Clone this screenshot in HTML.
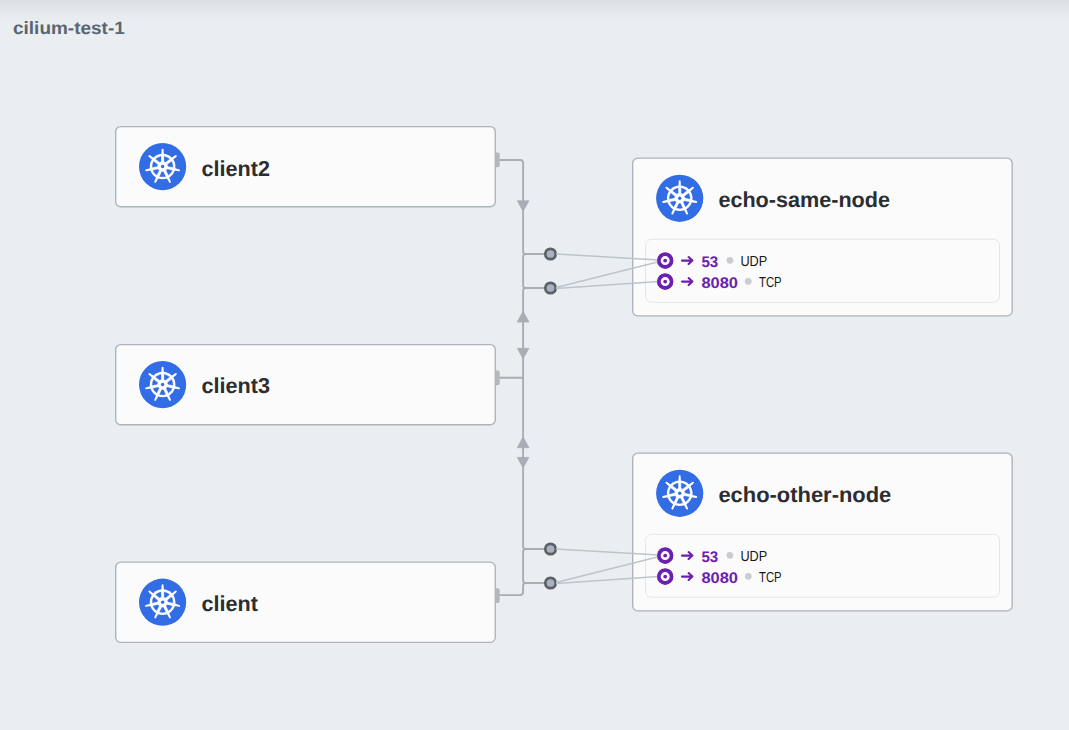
<!DOCTYPE html>
<html><head><meta charset="utf-8"><title>cilium-test-1</title>
<style>
html,body{margin:0;padding:0;background:#eaeef1;font-family:"Liberation Sans",sans-serif;}
body{width:1069px;height:730px;overflow:hidden;}
svg{display:block;}
</style></head><body>
<svg width="1069" height="730" viewBox="0 0 1069 730" text-rendering="geometricPrecision" font-family="'Liberation Sans', sans-serif">
<defs><linearGradient id="tg" x1="0" y1="0" x2="0" y2="1"><stop offset="0" stop-color="#dde0e3"/><stop offset="0.3" stop-color="#e3e6e8"/><stop offset="0.65" stop-color="#e8ebee"/><stop offset="1" stop-color="#eaeef1"/></linearGradient></defs>
<rect width="1069" height="730" fill="#eaeef1"/>
<rect width="1069" height="24" fill="url(#tg)"/>
<text x="13" y="34.2" font-size="17.8" font-weight="700" fill="#5b6572" textLength="111.8" lengthAdjust="spacingAndGlyphs">cilium-test-1</text>
<g fill="none" stroke="#a9adb5" stroke-width="1.9" stroke-linecap="butt" stroke-linejoin="round">
<path d="M499 160 H520.1 a3 3 0 0 1 3 3 V251.5 a2.5 2.5 0 0 0 2.5 2.5 H545"/>
<path d="M525.6 254 a2.5 2.5 0 0 0 -2.5 2.5 V285.5 a2.5 2.5 0 0 0 2.5 2.5 H545"/>
<path d="M525.6 288 a2.5 2.5 0 0 0 -2.5 2.5 V546.5 a2.5 2.5 0 0 0 2.5 2.5 H545"/>
<path d="M525.6 549 a2.5 2.5 0 0 0 -2.5 2.5 V580.5 a2.5 2.5 0 0 0 2.5 2.5 H545"/>
<path d="M499 595.1 H520.1 a3 3 0 0 0 3 -3 V585.5 a2.5 2.5 0 0 1 2.5 -2.5"/>
<path d="M499 377.8 H521.6 a1.5 1.5 0 0 0 1.5 -1.5 M521.6 377.8 a1.5 1.5 0 0 1 1.5 1.5"/>
</g>
<path d="M517.3000000000001 200.8 L528.9 200.8 L523.1 211.20000000000002 Z" fill="#a9adb5" stroke="#a9adb5" stroke-width="0.8" stroke-linejoin="round"/>
<path d="M517.3000000000001 322 L528.9 322 L523.1 311.2 Z" fill="#a9adb5" stroke="#a9adb5" stroke-width="0.8" stroke-linejoin="round"/>
<path d="M517.3000000000001 348.3 L528.9 348.3 L523.1 358.7 Z" fill="#a9adb5" stroke="#a9adb5" stroke-width="0.8" stroke-linejoin="round"/>
<path d="M517.3000000000001 447.7 L528.9 447.7 L523.1 436.9 Z" fill="#a9adb5" stroke="#a9adb5" stroke-width="0.8" stroke-linejoin="round"/>
<path d="M517.3000000000001 457.4 L528.9 457.4 L523.1 467.79999999999995 Z" fill="#a9adb5" stroke="#a9adb5" stroke-width="0.8" stroke-linejoin="round"/>
<circle cx="550.5" cy="254" r="5.2" fill="#aab2bc" stroke="#596069" stroke-width="2.7"/>
<circle cx="550.5" cy="288" r="5.2" fill="#aab2bc" stroke="#596069" stroke-width="2.7"/>
<circle cx="550.5" cy="549" r="5.2" fill="#aab2bc" stroke="#596069" stroke-width="2.7"/>
<circle cx="550.5" cy="583" r="5.2" fill="#aab2bc" stroke="#596069" stroke-width="2.7"/>
<rect x="115.68" y="126.58" width="379.59999999999997" height="80.15" rx="5" ry="5" fill="#fbfbfb" stroke="#aeb3bc" stroke-width="1.38"/>
<circle cx="162.6" cy="166.6" r="24.5" fill="#fff" fill-opacity="0.8"/>
<circle cx="162.6" cy="166.6" r="23.6" fill="#326de6"/>
<g transform="translate(162.6 166.54999999999998)">
<circle r="12.8" fill="#fff"/>
<path transform="rotate(0.00)" d="M-1.25 -12 L-0.95 -16.95 A0.95 0.95 0 0 1 0.95 -16.95 L1.25 -12 Z" fill="#fff"/>
<path transform="rotate(25.71)" d="M-0.78 -5.30 L0.78 -5.30 L2.97 -9.86 A10.3 10.3 0 0 0 -2.97 -9.86 Z" fill="#326de6" stroke="#326de6" stroke-width="0.3" stroke-linejoin="round"/>
<path transform="rotate(51.43)" d="M-1.25 -12 L-0.95 -16.95 A0.95 0.95 0 0 1 0.95 -16.95 L1.25 -12 Z" fill="#fff"/>
<path transform="rotate(77.14)" d="M-0.78 -5.30 L0.78 -5.30 L2.97 -9.86 A10.3 10.3 0 0 0 -2.97 -9.86 Z" fill="#326de6" stroke="#326de6" stroke-width="0.3" stroke-linejoin="round"/>
<path transform="rotate(102.86)" d="M-1.25 -12 L-0.95 -16.95 A0.95 0.95 0 0 1 0.95 -16.95 L1.25 -12 Z" fill="#fff"/>
<path transform="rotate(128.57)" d="M-0.78 -5.30 L0.78 -5.30 L2.97 -9.86 A10.3 10.3 0 0 0 -2.97 -9.86 Z" fill="#326de6" stroke="#326de6" stroke-width="0.3" stroke-linejoin="round"/>
<path transform="rotate(154.29)" d="M-1.25 -12 L-0.95 -16.95 A0.95 0.95 0 0 1 0.95 -16.95 L1.25 -12 Z" fill="#fff"/>
<path transform="rotate(180.00)" d="M-0.78 -5.30 L0.78 -5.30 L2.97 -9.86 A10.3 10.3 0 0 0 -2.97 -9.86 Z" fill="#326de6" stroke="#326de6" stroke-width="0.3" stroke-linejoin="round"/>
<path transform="rotate(205.71)" d="M-1.25 -12 L-0.95 -16.95 A0.95 0.95 0 0 1 0.95 -16.95 L1.25 -12 Z" fill="#fff"/>
<path transform="rotate(231.43)" d="M-0.78 -5.30 L0.78 -5.30 L2.97 -9.86 A10.3 10.3 0 0 0 -2.97 -9.86 Z" fill="#326de6" stroke="#326de6" stroke-width="0.3" stroke-linejoin="round"/>
<path transform="rotate(257.14)" d="M-1.25 -12 L-0.95 -16.95 A0.95 0.95 0 0 1 0.95 -16.95 L1.25 -12 Z" fill="#fff"/>
<path transform="rotate(282.86)" d="M-0.78 -5.30 L0.78 -5.30 L2.97 -9.86 A10.3 10.3 0 0 0 -2.97 -9.86 Z" fill="#326de6" stroke="#326de6" stroke-width="0.3" stroke-linejoin="round"/>
<path transform="rotate(308.57)" d="M-1.25 -12 L-0.95 -16.95 A0.95 0.95 0 0 1 0.95 -16.95 L1.25 -12 Z" fill="#fff"/>
<path transform="rotate(334.29)" d="M-0.78 -5.30 L0.78 -5.30 L2.97 -9.86 A10.3 10.3 0 0 0 -2.97 -9.86 Z" fill="#326de6" stroke="#326de6" stroke-width="0.3" stroke-linejoin="round"/>
<circle r="1.7" fill="#326de6"/>
</g>
<text x="201.5" y="175.6" font-size="21.6" font-weight="700" fill="#2b2d31">client2</text>
<path d="M496 152.6 h1.7 a2 2 0 0 1 2 2 v10.7 a2 2 0 0 1 -2 2 h-1.7 z" fill="#b6b7b9"/>
<rect x="115.68" y="344.58" width="379.59999999999997" height="80.15" rx="5" ry="5" fill="#fbfbfb" stroke="#aeb3bc" stroke-width="1.38"/>
<circle cx="162.6" cy="384.6" r="24.5" fill="#fff" fill-opacity="0.8"/>
<circle cx="162.6" cy="384.6" r="23.6" fill="#326de6"/>
<g transform="translate(162.6 384.55)">
<circle r="12.8" fill="#fff"/>
<path transform="rotate(0.00)" d="M-1.25 -12 L-0.95 -16.95 A0.95 0.95 0 0 1 0.95 -16.95 L1.25 -12 Z" fill="#fff"/>
<path transform="rotate(25.71)" d="M-0.78 -5.30 L0.78 -5.30 L2.97 -9.86 A10.3 10.3 0 0 0 -2.97 -9.86 Z" fill="#326de6" stroke="#326de6" stroke-width="0.3" stroke-linejoin="round"/>
<path transform="rotate(51.43)" d="M-1.25 -12 L-0.95 -16.95 A0.95 0.95 0 0 1 0.95 -16.95 L1.25 -12 Z" fill="#fff"/>
<path transform="rotate(77.14)" d="M-0.78 -5.30 L0.78 -5.30 L2.97 -9.86 A10.3 10.3 0 0 0 -2.97 -9.86 Z" fill="#326de6" stroke="#326de6" stroke-width="0.3" stroke-linejoin="round"/>
<path transform="rotate(102.86)" d="M-1.25 -12 L-0.95 -16.95 A0.95 0.95 0 0 1 0.95 -16.95 L1.25 -12 Z" fill="#fff"/>
<path transform="rotate(128.57)" d="M-0.78 -5.30 L0.78 -5.30 L2.97 -9.86 A10.3 10.3 0 0 0 -2.97 -9.86 Z" fill="#326de6" stroke="#326de6" stroke-width="0.3" stroke-linejoin="round"/>
<path transform="rotate(154.29)" d="M-1.25 -12 L-0.95 -16.95 A0.95 0.95 0 0 1 0.95 -16.95 L1.25 -12 Z" fill="#fff"/>
<path transform="rotate(180.00)" d="M-0.78 -5.30 L0.78 -5.30 L2.97 -9.86 A10.3 10.3 0 0 0 -2.97 -9.86 Z" fill="#326de6" stroke="#326de6" stroke-width="0.3" stroke-linejoin="round"/>
<path transform="rotate(205.71)" d="M-1.25 -12 L-0.95 -16.95 A0.95 0.95 0 0 1 0.95 -16.95 L1.25 -12 Z" fill="#fff"/>
<path transform="rotate(231.43)" d="M-0.78 -5.30 L0.78 -5.30 L2.97 -9.86 A10.3 10.3 0 0 0 -2.97 -9.86 Z" fill="#326de6" stroke="#326de6" stroke-width="0.3" stroke-linejoin="round"/>
<path transform="rotate(257.14)" d="M-1.25 -12 L-0.95 -16.95 A0.95 0.95 0 0 1 0.95 -16.95 L1.25 -12 Z" fill="#fff"/>
<path transform="rotate(282.86)" d="M-0.78 -5.30 L0.78 -5.30 L2.97 -9.86 A10.3 10.3 0 0 0 -2.97 -9.86 Z" fill="#326de6" stroke="#326de6" stroke-width="0.3" stroke-linejoin="round"/>
<path transform="rotate(308.57)" d="M-1.25 -12 L-0.95 -16.95 A0.95 0.95 0 0 1 0.95 -16.95 L1.25 -12 Z" fill="#fff"/>
<path transform="rotate(334.29)" d="M-0.78 -5.30 L0.78 -5.30 L2.97 -9.86 A10.3 10.3 0 0 0 -2.97 -9.86 Z" fill="#326de6" stroke="#326de6" stroke-width="0.3" stroke-linejoin="round"/>
<circle r="1.7" fill="#326de6"/>
</g>
<text x="201.5" y="392.6" font-size="21.6" font-weight="700" fill="#2b2d31">client3</text>
<path d="M496 370.6 h1.7 a2 2 0 0 1 2 2 v10.7 a2 2 0 0 1 -2 2 h-1.7 z" fill="#b6b7b9"/>
<rect x="115.68" y="562.1800000000001" width="379.59999999999997" height="80.15" rx="5" ry="5" fill="#fbfbfb" stroke="#aeb3bc" stroke-width="1.38"/>
<circle cx="162.6" cy="602.2" r="24.5" fill="#fff" fill-opacity="0.8"/>
<circle cx="162.6" cy="602.2" r="23.6" fill="#326de6"/>
<g transform="translate(162.6 602.1500000000001)">
<circle r="12.8" fill="#fff"/>
<path transform="rotate(0.00)" d="M-1.25 -12 L-0.95 -16.95 A0.95 0.95 0 0 1 0.95 -16.95 L1.25 -12 Z" fill="#fff"/>
<path transform="rotate(25.71)" d="M-0.78 -5.30 L0.78 -5.30 L2.97 -9.86 A10.3 10.3 0 0 0 -2.97 -9.86 Z" fill="#326de6" stroke="#326de6" stroke-width="0.3" stroke-linejoin="round"/>
<path transform="rotate(51.43)" d="M-1.25 -12 L-0.95 -16.95 A0.95 0.95 0 0 1 0.95 -16.95 L1.25 -12 Z" fill="#fff"/>
<path transform="rotate(77.14)" d="M-0.78 -5.30 L0.78 -5.30 L2.97 -9.86 A10.3 10.3 0 0 0 -2.97 -9.86 Z" fill="#326de6" stroke="#326de6" stroke-width="0.3" stroke-linejoin="round"/>
<path transform="rotate(102.86)" d="M-1.25 -12 L-0.95 -16.95 A0.95 0.95 0 0 1 0.95 -16.95 L1.25 -12 Z" fill="#fff"/>
<path transform="rotate(128.57)" d="M-0.78 -5.30 L0.78 -5.30 L2.97 -9.86 A10.3 10.3 0 0 0 -2.97 -9.86 Z" fill="#326de6" stroke="#326de6" stroke-width="0.3" stroke-linejoin="round"/>
<path transform="rotate(154.29)" d="M-1.25 -12 L-0.95 -16.95 A0.95 0.95 0 0 1 0.95 -16.95 L1.25 -12 Z" fill="#fff"/>
<path transform="rotate(180.00)" d="M-0.78 -5.30 L0.78 -5.30 L2.97 -9.86 A10.3 10.3 0 0 0 -2.97 -9.86 Z" fill="#326de6" stroke="#326de6" stroke-width="0.3" stroke-linejoin="round"/>
<path transform="rotate(205.71)" d="M-1.25 -12 L-0.95 -16.95 A0.95 0.95 0 0 1 0.95 -16.95 L1.25 -12 Z" fill="#fff"/>
<path transform="rotate(231.43)" d="M-0.78 -5.30 L0.78 -5.30 L2.97 -9.86 A10.3 10.3 0 0 0 -2.97 -9.86 Z" fill="#326de6" stroke="#326de6" stroke-width="0.3" stroke-linejoin="round"/>
<path transform="rotate(257.14)" d="M-1.25 -12 L-0.95 -16.95 A0.95 0.95 0 0 1 0.95 -16.95 L1.25 -12 Z" fill="#fff"/>
<path transform="rotate(282.86)" d="M-0.78 -5.30 L0.78 -5.30 L2.97 -9.86 A10.3 10.3 0 0 0 -2.97 -9.86 Z" fill="#326de6" stroke="#326de6" stroke-width="0.3" stroke-linejoin="round"/>
<path transform="rotate(308.57)" d="M-1.25 -12 L-0.95 -16.95 A0.95 0.95 0 0 1 0.95 -16.95 L1.25 -12 Z" fill="#fff"/>
<path transform="rotate(334.29)" d="M-0.78 -5.30 L0.78 -5.30 L2.97 -9.86 A10.3 10.3 0 0 0 -2.97 -9.86 Z" fill="#326de6" stroke="#326de6" stroke-width="0.3" stroke-linejoin="round"/>
<circle r="1.7" fill="#326de6"/>
</g>
<text x="201.5" y="611.2" font-size="21.6" font-weight="700" fill="#2b2d31">client</text>
<path d="M496 588.2 h1.7 a2 2 0 0 1 2 2 v10.7 a2 2 0 0 1 -2 2 h-1.7 z" fill="#b6b7b9"/>
<rect x="632.68" y="158.18" width="379.5" height="157.65" rx="5" ry="5" fill="#fbfbfb" stroke="#aeb3bc" stroke-width="1.38"/>
<circle cx="679.7" cy="198.3" r="24.5" fill="#fff" fill-opacity="0.8"/>
<circle cx="679.7" cy="198.3" r="23.6" fill="#326de6"/>
<g transform="translate(679.7 198.25)">
<circle r="12.8" fill="#fff"/>
<path transform="rotate(0.00)" d="M-1.25 -12 L-0.95 -16.95 A0.95 0.95 0 0 1 0.95 -16.95 L1.25 -12 Z" fill="#fff"/>
<path transform="rotate(25.71)" d="M-0.78 -5.30 L0.78 -5.30 L2.97 -9.86 A10.3 10.3 0 0 0 -2.97 -9.86 Z" fill="#326de6" stroke="#326de6" stroke-width="0.3" stroke-linejoin="round"/>
<path transform="rotate(51.43)" d="M-1.25 -12 L-0.95 -16.95 A0.95 0.95 0 0 1 0.95 -16.95 L1.25 -12 Z" fill="#fff"/>
<path transform="rotate(77.14)" d="M-0.78 -5.30 L0.78 -5.30 L2.97 -9.86 A10.3 10.3 0 0 0 -2.97 -9.86 Z" fill="#326de6" stroke="#326de6" stroke-width="0.3" stroke-linejoin="round"/>
<path transform="rotate(102.86)" d="M-1.25 -12 L-0.95 -16.95 A0.95 0.95 0 0 1 0.95 -16.95 L1.25 -12 Z" fill="#fff"/>
<path transform="rotate(128.57)" d="M-0.78 -5.30 L0.78 -5.30 L2.97 -9.86 A10.3 10.3 0 0 0 -2.97 -9.86 Z" fill="#326de6" stroke="#326de6" stroke-width="0.3" stroke-linejoin="round"/>
<path transform="rotate(154.29)" d="M-1.25 -12 L-0.95 -16.95 A0.95 0.95 0 0 1 0.95 -16.95 L1.25 -12 Z" fill="#fff"/>
<path transform="rotate(180.00)" d="M-0.78 -5.30 L0.78 -5.30 L2.97 -9.86 A10.3 10.3 0 0 0 -2.97 -9.86 Z" fill="#326de6" stroke="#326de6" stroke-width="0.3" stroke-linejoin="round"/>
<path transform="rotate(205.71)" d="M-1.25 -12 L-0.95 -16.95 A0.95 0.95 0 0 1 0.95 -16.95 L1.25 -12 Z" fill="#fff"/>
<path transform="rotate(231.43)" d="M-0.78 -5.30 L0.78 -5.30 L2.97 -9.86 A10.3 10.3 0 0 0 -2.97 -9.86 Z" fill="#326de6" stroke="#326de6" stroke-width="0.3" stroke-linejoin="round"/>
<path transform="rotate(257.14)" d="M-1.25 -12 L-0.95 -16.95 A0.95 0.95 0 0 1 0.95 -16.95 L1.25 -12 Z" fill="#fff"/>
<path transform="rotate(282.86)" d="M-0.78 -5.30 L0.78 -5.30 L2.97 -9.86 A10.3 10.3 0 0 0 -2.97 -9.86 Z" fill="#326de6" stroke="#326de6" stroke-width="0.3" stroke-linejoin="round"/>
<path transform="rotate(308.57)" d="M-1.25 -12 L-0.95 -16.95 A0.95 0.95 0 0 1 0.95 -16.95 L1.25 -12 Z" fill="#fff"/>
<path transform="rotate(334.29)" d="M-0.78 -5.30 L0.78 -5.30 L2.97 -9.86 A10.3 10.3 0 0 0 -2.97 -9.86 Z" fill="#326de6" stroke="#326de6" stroke-width="0.3" stroke-linejoin="round"/>
<circle r="1.7" fill="#326de6"/>
</g>
<text x="718.4" y="207.1" font-size="21.6" font-weight="700" fill="#2b2d31">echo-same-node</text>
<rect x="645.5" y="239.3" width="354" height="63" rx="6" ry="6" fill="#fbfbfb" stroke="#e4e6e9" stroke-width="1"/>
<circle cx="665.2" cy="260.6" r="6.3" fill="#fff" stroke="#6b20b0" stroke-width="3.6"/><circle cx="665.2" cy="260.6" r="1.9" fill="#6b20b0"/>
<path d="M682.0 260.6 H692.2 M688.6 257.1 L692.4 260.6 L688.6 264.1" fill="none" stroke="#6b20b0" stroke-width="2.1" stroke-linecap="round" stroke-linejoin="round"/>
<text x="701.4" y="266.70000000000005" font-size="15.3" font-weight="700" fill="#6b20b0" textLength="16.8" lengthAdjust="spacingAndGlyphs">53</text>
<circle cx="729.9" cy="260.3" r="3.4" fill="#c9ccd1"/>
<text x="740.4" y="265.90000000000003" font-size="14.5" fill="#161616" textLength="26.8" lengthAdjust="spacingAndGlyphs">UDP</text>
<circle cx="665.2" cy="281.6" r="6.3" fill="#fff" stroke="#6b20b0" stroke-width="3.6"/><circle cx="665.2" cy="281.6" r="1.9" fill="#6b20b0"/>
<path d="M682.0 281.6 H692.2 M688.6 278.1 L692.4 281.6 L688.6 285.1" fill="none" stroke="#6b20b0" stroke-width="2.1" stroke-linecap="round" stroke-linejoin="round"/>
<text x="701.4" y="287.70000000000005" font-size="15.3" font-weight="700" fill="#6b20b0" textLength="36.6" lengthAdjust="spacingAndGlyphs">8080</text>
<circle cx="748.3" cy="281.3" r="3.4" fill="#c9ccd1"/>
<text x="759.0" y="286.90000000000003" font-size="14.5" fill="#161616" textLength="22.6" lengthAdjust="spacingAndGlyphs">TCP</text>
<rect x="632.68" y="453.18" width="379.5" height="157.65" rx="5" ry="5" fill="#fbfbfb" stroke="#aeb3bc" stroke-width="1.38"/>
<circle cx="679.7" cy="493.3" r="24.5" fill="#fff" fill-opacity="0.8"/>
<circle cx="679.7" cy="493.3" r="23.6" fill="#326de6"/>
<g transform="translate(679.7 493.25)">
<circle r="12.8" fill="#fff"/>
<path transform="rotate(0.00)" d="M-1.25 -12 L-0.95 -16.95 A0.95 0.95 0 0 1 0.95 -16.95 L1.25 -12 Z" fill="#fff"/>
<path transform="rotate(25.71)" d="M-0.78 -5.30 L0.78 -5.30 L2.97 -9.86 A10.3 10.3 0 0 0 -2.97 -9.86 Z" fill="#326de6" stroke="#326de6" stroke-width="0.3" stroke-linejoin="round"/>
<path transform="rotate(51.43)" d="M-1.25 -12 L-0.95 -16.95 A0.95 0.95 0 0 1 0.95 -16.95 L1.25 -12 Z" fill="#fff"/>
<path transform="rotate(77.14)" d="M-0.78 -5.30 L0.78 -5.30 L2.97 -9.86 A10.3 10.3 0 0 0 -2.97 -9.86 Z" fill="#326de6" stroke="#326de6" stroke-width="0.3" stroke-linejoin="round"/>
<path transform="rotate(102.86)" d="M-1.25 -12 L-0.95 -16.95 A0.95 0.95 0 0 1 0.95 -16.95 L1.25 -12 Z" fill="#fff"/>
<path transform="rotate(128.57)" d="M-0.78 -5.30 L0.78 -5.30 L2.97 -9.86 A10.3 10.3 0 0 0 -2.97 -9.86 Z" fill="#326de6" stroke="#326de6" stroke-width="0.3" stroke-linejoin="round"/>
<path transform="rotate(154.29)" d="M-1.25 -12 L-0.95 -16.95 A0.95 0.95 0 0 1 0.95 -16.95 L1.25 -12 Z" fill="#fff"/>
<path transform="rotate(180.00)" d="M-0.78 -5.30 L0.78 -5.30 L2.97 -9.86 A10.3 10.3 0 0 0 -2.97 -9.86 Z" fill="#326de6" stroke="#326de6" stroke-width="0.3" stroke-linejoin="round"/>
<path transform="rotate(205.71)" d="M-1.25 -12 L-0.95 -16.95 A0.95 0.95 0 0 1 0.95 -16.95 L1.25 -12 Z" fill="#fff"/>
<path transform="rotate(231.43)" d="M-0.78 -5.30 L0.78 -5.30 L2.97 -9.86 A10.3 10.3 0 0 0 -2.97 -9.86 Z" fill="#326de6" stroke="#326de6" stroke-width="0.3" stroke-linejoin="round"/>
<path transform="rotate(257.14)" d="M-1.25 -12 L-0.95 -16.95 A0.95 0.95 0 0 1 0.95 -16.95 L1.25 -12 Z" fill="#fff"/>
<path transform="rotate(282.86)" d="M-0.78 -5.30 L0.78 -5.30 L2.97 -9.86 A10.3 10.3 0 0 0 -2.97 -9.86 Z" fill="#326de6" stroke="#326de6" stroke-width="0.3" stroke-linejoin="round"/>
<path transform="rotate(308.57)" d="M-1.25 -12 L-0.95 -16.95 A0.95 0.95 0 0 1 0.95 -16.95 L1.25 -12 Z" fill="#fff"/>
<path transform="rotate(334.29)" d="M-0.78 -5.30 L0.78 -5.30 L2.97 -9.86 A10.3 10.3 0 0 0 -2.97 -9.86 Z" fill="#326de6" stroke="#326de6" stroke-width="0.3" stroke-linejoin="round"/>
<circle r="1.7" fill="#326de6"/>
</g>
<text x="718.4" y="502.1" font-size="21.6" font-weight="700" fill="#2b2d31" textLength="172.9" lengthAdjust="spacingAndGlyphs">echo-other-node</text>
<rect x="645.5" y="534.3000000000001" width="354" height="63" rx="6" ry="6" fill="#fbfbfb" stroke="#e4e6e9" stroke-width="1"/>
<circle cx="665.2" cy="555.6" r="6.3" fill="#fff" stroke="#6b20b0" stroke-width="3.6"/><circle cx="665.2" cy="555.6" r="1.9" fill="#6b20b0"/>
<path d="M682.0 555.6 H692.2 M688.6 552.1 L692.4 555.6 L688.6 559.1" fill="none" stroke="#6b20b0" stroke-width="2.1" stroke-linecap="round" stroke-linejoin="round"/>
<text x="701.4" y="561.7" font-size="15.3" font-weight="700" fill="#6b20b0" textLength="16.8" lengthAdjust="spacingAndGlyphs">53</text>
<circle cx="729.9" cy="555.3000000000001" r="3.4" fill="#c9ccd1"/>
<text x="740.4" y="560.9" font-size="14.5" fill="#161616" textLength="26.8" lengthAdjust="spacingAndGlyphs">UDP</text>
<circle cx="665.2" cy="576.6" r="6.3" fill="#fff" stroke="#6b20b0" stroke-width="3.6"/><circle cx="665.2" cy="576.6" r="1.9" fill="#6b20b0"/>
<path d="M682.0 576.6 H692.2 M688.6 573.1 L692.4 576.6 L688.6 580.1" fill="none" stroke="#6b20b0" stroke-width="2.1" stroke-linecap="round" stroke-linejoin="round"/>
<text x="701.4" y="582.7" font-size="15.3" font-weight="700" fill="#6b20b0" textLength="36.6" lengthAdjust="spacingAndGlyphs">8080</text>
<circle cx="748.3" cy="576.3000000000001" r="3.4" fill="#c9ccd1"/>
<text x="759.0" y="581.9" font-size="14.5" fill="#161616" textLength="22.6" lengthAdjust="spacingAndGlyphs">TCP</text>
<g fill="none" stroke="#bcc4cc" stroke-width="1.55">
<path d="M556 254 L658.5 259.9 M556 287.4 L658.5 261.8 M556 288.4 L658.5 281.5"/>
<path d="M556 549 L658.5 554.9 M556 582.4 L658.5 556.8 M556 583.4 L658.5 576.5"/>
</g>
<circle cx="665.2" cy="260.6" r="6.3" fill="#fff" stroke="#6b20b0" stroke-width="3.6"/><circle cx="665.2" cy="260.6" r="1.9" fill="#6b20b0"/>
<circle cx="665.2" cy="281.6" r="6.3" fill="#fff" stroke="#6b20b0" stroke-width="3.6"/><circle cx="665.2" cy="281.6" r="1.9" fill="#6b20b0"/>
<circle cx="665.2" cy="555.6" r="6.3" fill="#fff" stroke="#6b20b0" stroke-width="3.6"/><circle cx="665.2" cy="555.6" r="1.9" fill="#6b20b0"/>
<circle cx="665.2" cy="576.6" r="6.3" fill="#fff" stroke="#6b20b0" stroke-width="3.6"/><circle cx="665.2" cy="576.6" r="1.9" fill="#6b20b0"/>
</svg>
</body></html>
